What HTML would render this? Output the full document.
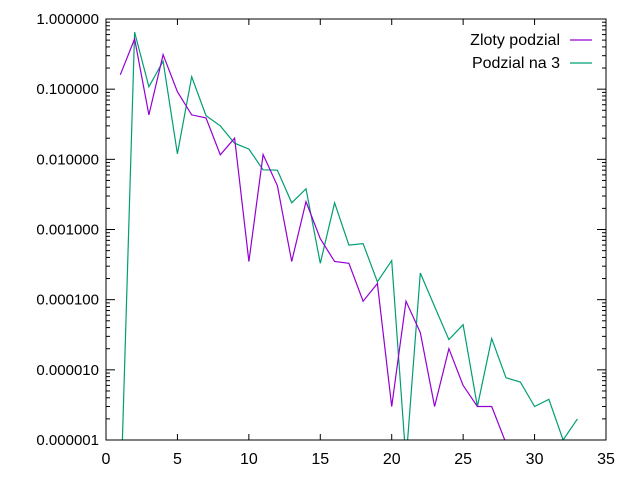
<!DOCTYPE html>
<html><head><meta charset="utf-8"><style>
html,body{margin:0;padding:0;background:#fff;width:640px;height:480px;overflow:hidden;}
svg{display:block;font-family:"Liberation Sans",sans-serif;}
</style></head><body>
<svg id="chart" width="640" height="480">
<defs><clipPath id="pc"><rect x="106" y="19" width="500" height="421"/></clipPath></defs>
<g id="axes"></g>
<g id="series" clip-path="url(#pc)"></g>
<rect x="106" y="19" width="500" height="421" fill="none" stroke="#000" stroke-width="1"/>
<g id="legend"></g>
</svg>
<script>
const xs = [1,2,3,4,5,6,7,8,9,10,11,12,13,14,15,16,17,18,19,20,21,22,23,24,25,26,27,28,29,30,31,32,33];
const zloty = [0.16,0.52,0.043,0.31,0.092,0.043,0.039,0.0116,0.020,0.00035,0.0117,0.0042,0.00035,0.0025,0.00074,0.00035,0.00033,0.000095,0.00017,0.000003,0.000095,0.000034,0.000003,0.00002,0.000006,0.000003,0.000003,0.0000009];
const podzial = [1e-7,0.65,0.108,0.25,0.012,0.15,0.042,0.030,0.017,0.014,0.0071,0.007,0.0024,0.0038,0.00033,0.0024,0.0006,0.00063,0.00018,0.00036,5e-7,0.00024,0.00008,0.000027,0.000044,0.000003,0.000028,0.0000077,0.0000067,0.000003,0.0000038,0.000001,0.000002];
const xTicks = [0,5,10,15,20,25,30,35];
const yTicks = [1,0.1,0.01,0.001,0.0001,0.00001,0.000001];
const yTickLabels = ["1.000000","0.100000","0.010000","0.001000","0.000100","0.000010","0.000001"];
const NS="http://www.w3.org/2000/svg";
const L=106,R=606,T=19,B=440;
function X(v){return L+(v-0)/(35-0)*(R-L);}
function Y(v){return T+(0-Math.log10(v))/6*(B-T);}
function mk(tag,attrs,parent){const e=document.createElementNS(NS,tag);for(const k in attrs)e.setAttribute(k,attrs[k]);parent.appendChild(e);return e;}
const axes=document.getElementById('axes');
xTicks.forEach(t=>{
  const x=X(t);
  const a=mk('line',{x1:x,x2:x,y1:B,y2:B-6,stroke:'#000'},axes);
  
  
  const b=mk('line',{x1:x,x2:x,y1:T,y2:T+6,stroke:'#000'},axes);
  
  
  const tx=mk('text',{x:x,y:B+24,'text-anchor':'middle','font-size':'16'},axes);
  tx.textContent=t;
  
  
});
yTicks.forEach((t,i)=>{
  const y=Y(t);
  const a=mk('line',{x1:L,x2:L+9,y1:y,y2:y,stroke:'#000'},axes);
  
  
  const b=mk('line',{x1:R,x2:R-9,y1:y,y2:y,stroke:'#000'},axes);
  
  
  const tx=mk('text',{x:L-7,y:y+5,'text-anchor':'end','font-size':'15'},axes);
  tx.textContent=yTickLabels[i];
  
  
  if(i<yTicks.length-1){
    for(let m=2;m<=9;m++){
      const yy=Y(t/10*m);
      const c=mk('line',{x1:L,x2:L+4,y1:yy,y2:yy,stroke:'#000'},axes);
      
      
      const d=mk('line',{x1:R,x2:R-4,y1:yy,y2:yy,stroke:'#000'},axes);
      
      
    }
  }
});
const series=document.getElementById('series');
function line(vals,color,name){
  const pts=vals.map((v,i)=>X(xs[i]).toFixed(1)+','+Y(v).toFixed(1)).join(' ');
  const p=mk('polyline',{points:pts,fill:'none',stroke:color,'stroke-width':'1.2'},series);
  
  
}
line(podzial,'#009e73','series-podzial-na-3');
line(zloty,'#9400d3','series-zloty-podzial');
const lg=document.getElementById('legend');
[['Zloty podzial','#9400d3',40],['Podzial na 3','#009e73',63]].forEach(([n,c,y])=>{
  const t=mk('text',{x:560,y:y+5,'text-anchor':'end','font-size':'16'},lg);
  t.textContent=n;
  
  
  const l=mk('line',{x1:570,x2:592,y1:y,y2:y,stroke:c,'stroke-width':'1.2'},lg);
  
  
});
</script>
</body></html>
